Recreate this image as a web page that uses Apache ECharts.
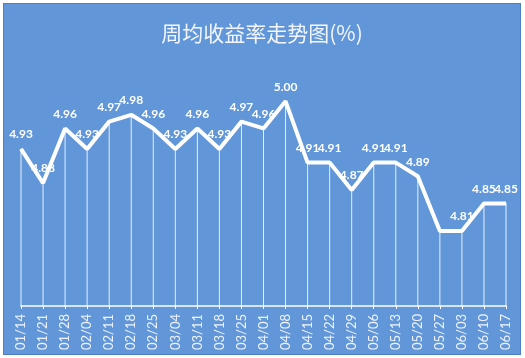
<!DOCTYPE html>
<html><head><meta charset="utf-8">
<script src="https://cdn.jsdelivr.net/npm/echarts@6/dist/echarts.min.js"></script>
<style>
html,body{margin:0;padding:0;background:#fff;}
#c{position:absolute;left:3px;top:3px;width:516px;height:350px;border:1px solid #4f7fc0;background:#6196d9;}
</style></head><body>
<div id="c"></div>
<script>
var categories = ['01/14','01/21','01/28','02/04','02/11','02/18','02/25','03/04','03/11','03/18','03/25','04/01','04/08','04/15','04/22','04/29','05/06','05/13','05/20','05/27','06/03','06/10','06/17'];
var values = [4.93,4.88,4.96,4.93,4.97,4.98,4.96,4.93,4.96,4.93,4.97,4.96,5.00,4.91,4.91,4.87,4.91,4.91,4.89,4.81,4.81,4.85,4.85];
var hiddenLabels = ['05/27'];
var titleText = '周均收益率走势图(%)';
var lineData = values.map(function(v, i){
  return hiddenLabels.indexOf(categories[i]) >= 0 ? {value: v, label: {show: false}} : v;
});
var chart = echarts.init(document.getElementById('c'));
chart.setOption({
  backgroundColor: 'transparent',
  animation: false,
  title: {text: titleText, left: 'center', top: 14,
    textStyle: {color: '#f2f6fc', fontSize: 21, fontWeight: 'normal', fontFamily: 'Noto Sans CJK SC'}},
  grid: {left: 17, right: 14, top: 63, bottom: 48},
  xAxis: {type: 'category', data: categories, boundaryGap: false,
    axisLine: {lineStyle: {color: '#ffffff', width: 1.5}},
    axisTick: {show: true, length: 3, lineStyle: {color: '#ffffff'}},
    axisLabel: {rotate: 90, color: '#eef3fb', fontSize: 13, margin: 8, fontFamily: 'Lato'},
    splitLine: {show: false}},
  yAxis: {type: 'value', min: 4.70, max: 5.05, show: false},
  series: [
    {type: 'bar', data: values, barWidth: 1, itemStyle: {color: 'rgba(255,255,255,0.85)'}, silent: true, z: 1},
    {type: 'line', data: lineData, symbol: 'circle', symbolSize: 1, showSymbol: true, z: 3,
      itemStyle: {color: '#ffffff'},
      lineStyle: {color: '#ffffff', width: 4},
      label: {show: true, position: 'top', distance: 8, color: '#ffffff', fontSize: 12, fontWeight: 'bold', fontFamily: 'Lato',
        formatter: function(p){return (typeof p.value === 'number' ? p.value : p.data.value).toFixed(2);}}}
  ]
});
</script></body></html>
